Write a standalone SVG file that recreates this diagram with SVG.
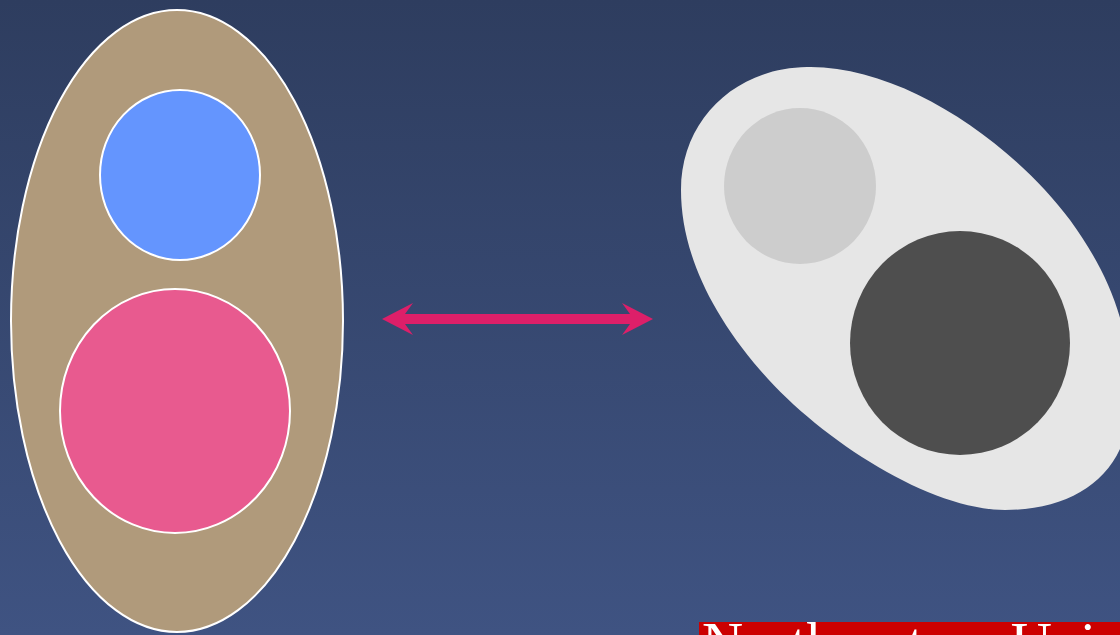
<svg xmlns="http://www.w3.org/2000/svg" width="1120" height="635" viewBox="0 0 1120 635">
<defs>
<linearGradient id="bg" x1="0" y1="0" x2="0" y2="1">
<stop offset="0" stop-color="#2e3d5f"/>
<stop offset="1" stop-color="#3f5382"/>
</linearGradient>
</defs>
<style>
.wst{stroke:#ffffff;stroke-width:2}
.lbl{font-family:"Liberation Serif","Times New Roman",serif;font-size:57px;fill:#ffffff}
</style>
<rect x="0" y="0" width="1120" height="635" fill="url(#bg)"/>
<g id="left-cell">
<ellipse cx="177" cy="321" rx="166" ry="311" fill="#b09a7b" class="wst"/>
<ellipse cx="180" cy="175" rx="80" ry="85" fill="#6495fe" class="wst"/>
<ellipse cx="175" cy="411" rx="115" ry="122" fill="#e85a8f" class="wst"/>
</g>
<g id="connectors">
<polygon points="382,319 413,303 405,314 630,314 622,303 653,319 622,335 630,324 405,324 413,335" fill="#dd1f69"/>
</g>
<g id="right-cell">
<path d="M 807 67 C 900 65, 1010 140, 1070 220 C 1110 275, 1132 330, 1130 400 C 1130 470, 1080 510, 1005 510 C 930 510, 820 440, 760 370 C 705 306, 681 245, 681 190 C 681 120, 735 68, 807 67 Z" fill="#e6e6e6"/>
<ellipse cx="800" cy="186" rx="76" ry="78" fill="#cdcdcd"/>
<ellipse cx="960" cy="343" rx="110" ry="112" fill="#4e4e4e"/>
</g>
<g id="banner">
<rect x="699" y="622" width="421" height="13" fill="#cc0000"/>
<text x="702" y="662" class="lbl">Northeastern University</text>
</g>
</svg>
